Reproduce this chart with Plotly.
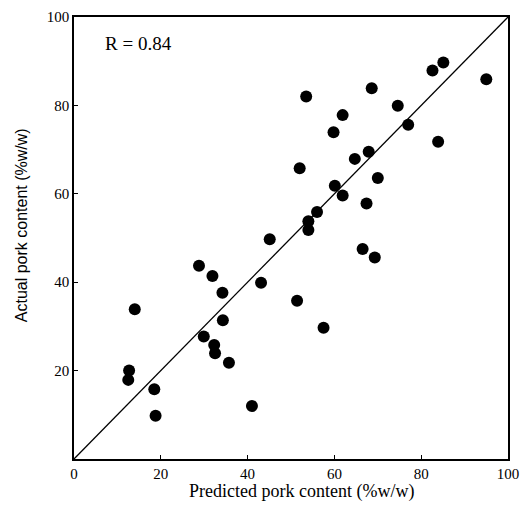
import plotly.graph_objects as go

predicted = [53.5, 61.9, 59.8, 68.6, 74.6, 77.0, 82.6, 85.1, 95.0, 83.9,
             52.0, 64.7, 67.9, 70.0, 60.1, 61.9, 67.4, 56.0, 54.0, 54.0,
             66.5, 69.3, 51.4, 57.5,
             45.1, 28.8, 31.9, 43.1, 34.2, 14.0, 34.3, 29.9, 32.3, 32.5,
             35.7, 12.7, 12.5, 18.5, 18.8, 41.0]
actual = [82.0, 77.8, 73.9, 83.9, 79.9, 75.6, 87.9, 89.7, 85.9, 71.8,
          65.8, 67.9, 69.5, 63.6, 61.8, 59.6, 57.8, 55.9, 53.8, 51.8,
          47.5, 45.6, 35.8, 29.7,
          49.7, 43.7, 41.4, 39.9, 37.6, 33.9, 31.4, 27.7, 25.8, 23.9,
          21.8, 20.0, 17.9, 15.8, 9.8, 12.0]
line_x = [0, 100]
line_y = [0, 100]
x_ticks = [0, 20, 40, 60, 80, 100]
y_ticks = [20, 40, 60, 80, 100]

serif = "Liberation Serif, Times New Roman, serif"
sans = "Liberation Sans, Arial, sans-serif"

fig = go.Figure()
fig.add_trace(go.Scatter(x=line_x, y=line_y, mode="lines",
                         line=dict(color="black", width=1.3), showlegend=False))
fig.add_trace(go.Scatter(x=predicted, y=actual, mode="markers",
                         marker=dict(color="black", size=12, line=dict(width=0)),
                         showlegend=False))

axis_common = dict(range=[0, 100], showgrid=False, zeroline=False,
                   showline=True, linecolor="black", linewidth=1.5, mirror=True,
                   ticks="inside", ticklen=4, tickcolor="black", automargin=False,
                   tickfont=dict(family=serif, size=15, color="black"))

fig.update_xaxes(**axis_common, tickvals=x_ticks)
fig.update_yaxes(**axis_common, tickvals=y_ticks)

fig.add_annotation(x=0.525, y=-0.073, xref="paper", yref="paper",
                   text="Predicted pork content (%w/w)", showarrow=False,
                   xanchor="center", yanchor="middle",
                   font=dict(family=serif, size=18, color="black"))
fig.add_annotation(x=-0.122, y=0.529, xref="paper", yref="paper",
                   text="Actual pork content (%w/w)", showarrow=False, textangle=-90,
                   xanchor="center", yanchor="middle",
                   font=dict(family=sans, size=16, color="black"))
fig.add_annotation(x=0.066, y=0.941, xref="paper", yref="paper",
                   text="R = 0.84", showarrow=False, xanchor="left", yanchor="middle",
                   font=dict(family=serif, size=19, color="black"))

fig.update_layout(width=523, height=505,
                  margin=dict(l=74, r=15, t=17, b=46),
                  plot_bgcolor="white", paper_bgcolor="white")

fig.write_html("out.html")
